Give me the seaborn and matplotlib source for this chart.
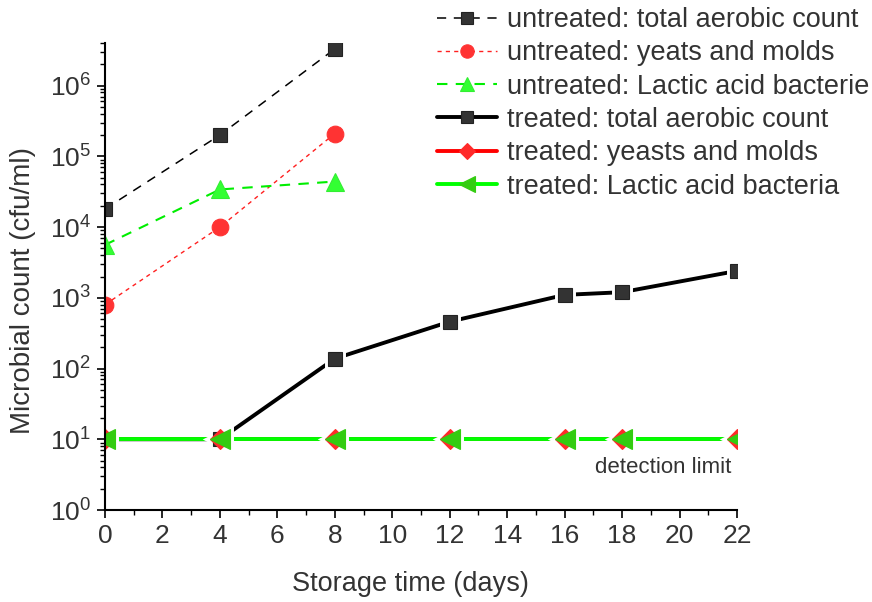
import matplotlib
matplotlib.use("Agg")
import matplotlib.pyplot as plt
import seaborn as sns
import pandas as pd
import numpy as np
from matplotlib.lines import Line2D
from matplotlib.ticker import LogLocator, MultipleLocator

sns.set_style("ticks")
plt.rcParams['font.family'] = ['Liberation Sans', 'DejaVu Sans']
plt.rcParams['mathtext.fontset'] = 'custom'
plt.rcParams['mathtext.rm'] = 'Liberation Sans'

TXT = '#333333'

days_untreated = [0, 4, 8]
untreated_tac = [1.8e4, 2.0e5, 3.3e6]
untreated_ym = [8.0e2, 1.0e4, 2.1e5]
untreated_lab = [5.6e3, 3.4e4, 4.4e4]

days_treated = [0, 4, 8, 12, 16, 18, 22]
treated_tac = [10, 10, 138, 460, 1100, 1200, 2400]
treated_ym = [10, 10, 10, 10, 10, 10, 10]
treated_lab = [10, 10, 10, 10, 10, 10, 10]

labels = ["untreated: total aerobic count",
          "untreated: yeats and molds",
          "untreated: Lactic acid bacterie",
          "treated: total aerobic count",
          "treated: yeasts and molds",
          "treated: Lactic acid bacteria"]

fig = plt.figure(figsize=(8.72, 6.02), dpi=100)
ax = fig.add_axes([105/872, 1-510/602, (737-105)/872, (510-43)/602])

styles = [
    dict(x=days_untreated, y=untreated_tac, color='black', ls=(0, (6, 5)), lw=1.1,
         marker='s', ms=10, mfc='#333333', mec='#222222', gap=False),
    dict(x=days_untreated, y=untreated_ym, color='#ff2020', ls=(0, (3, 3)), lw=1.0,
         marker='o', ms=12, mfc='#ff3333', mec='#ff3333', gap=False),
    dict(x=days_untreated, y=untreated_lab, color='#00ee00', ls=(0, (5, 4)), lw=1.5,
         marker='^', ms=13, mfc='#33ff33', mec='#33ee33', gap=False),
    dict(x=days_treated, y=treated_tac, color='black', ls='-', lw=2.8,
         marker='s', ms=10, mfc='#333333', mec='#222222', gap=True),
    dict(x=days_treated, y=treated_ym, color='#ff0000', ls='-', lw=2.8,
         marker='D', ms=10.5, mfc='#ff2a2a', mec='#ff2a2a', gap=True),
    dict(x=days_treated, y=treated_lab, color='#00ff00', ls='-', lw=2.8,
         marker='<', ms=14, mfc='#33cc11', mec='#33cc11', gap=True),
]

handles = []
# untreated series and the lines (with white gaps at markers) of treated series
for st in styles:
    df = pd.DataFrame({'day': st['x'], 'count': st['y']})
    if st['gap']:
        sns.lineplot(data=df, x='day', y='count', ax=ax, estimator=None,
                     color=st['color'], linestyle=st['ls'], linewidth=st['lw'],
                     marker=st['marker'], markersize=st['ms'],
                     markerfacecolor='white', markeredgecolor='white',
                     markeredgewidth=5, clip_on=True)
    else:
        sns.lineplot(data=df, x='day', y='count', ax=ax, estimator=None,
                     color=st['color'], linestyle=st['ls'], linewidth=st['lw'],
                     marker=st['marker'], markersize=st['ms'],
                     markerfacecolor=st['mfc'], markeredgecolor=st['mec'],
                     markeredgewidth=0.8, clip_on=True)
# treated markers on top
for st in styles:
    if st['gap']:
        df = pd.DataFrame({'day': st['x'], 'count': st['y']})
        sns.lineplot(data=df, x='day', y='count', ax=ax, estimator=None,
                     color=st['color'], linestyle='none', linewidth=0,
                     marker=st['marker'], markersize=st['ms'],
                     markerfacecolor=st['mfc'], markeredgecolor=st['mec'],
                     markeredgewidth=0.8, clip_on=True)
for st in styles:
    handles.append(Line2D([], [], color=st['color'], linestyle=st['ls'],
                          linewidth=st['lw'], marker=st['marker'],
                          markersize=st['ms']*0.8, markerfacecolor=st['mfc'],
                          markeredgecolor=st['mec'], markeredgewidth=0.8))

ax.set_yscale('log')
ax.set_xlim(0, 22)
ax.set_ylim(1, 4e6)
ax.xaxis.set_major_locator(MultipleLocator(2))
ax.xaxis.set_minor_locator(MultipleLocator(1))
ax.yaxis.set_major_locator(LogLocator(base=10, numticks=10))
ax.yaxis.set_minor_locator(LogLocator(base=10, subs=np.arange(2, 10), numticks=20))

for s in ['top', 'right']:
    ax.spines[s].set_visible(False)
for s in ['left', 'bottom']:
    ax.spines[s].set_linewidth(1.5)
    ax.spines[s].set_color('black')

ax.tick_params(which='major', direction='out', length=6, width=1.2,
               labelsize=19, labelcolor=TXT, color='black', pad=4)
ax.tick_params(which='minor', direction='out', length=3.5, width=1.0, color='black')

ax.set_xlabel('Storage time (days)', fontsize=19.5, color=TXT)
ax.set_ylabel('Microbial count (cfu/ml)', fontsize=20, color=TXT)
ax.xaxis.set_label_coords((410-105)/632, -(571-510)/467)
ax.yaxis.set_label_coords(-(105-36)/632, (510-291)/467)

ax.text(21.8, 4.0, 'detection limit', ha='right', va='center', fontsize=16, color=TXT)

fig.legend(handles=handles, labels=labels, loc='upper left',
           bbox_to_anchor=(437/872, 1-7/602), frameon=False, fontsize=19.5,
           handlelength=2.2, handletextpad=0.37, labelspacing=0.27,
           borderpad=0, borderaxespad=0, labelcolor=TXT)

fig.savefig('out.png', dpi=100)
